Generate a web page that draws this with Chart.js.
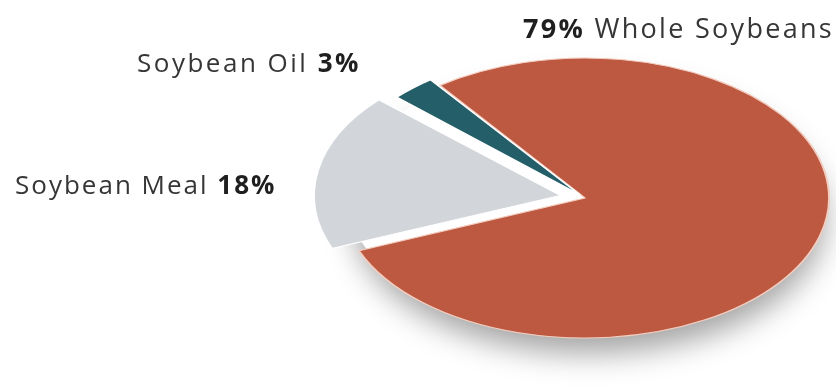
<!DOCTYPE html>
<html>
<head>
<meta charset="utf-8">
<script src="https://cdn.jsdelivr.net/npm/chart.js@4/dist/chart.umd.min.js"></script>
<style>
  html, body { margin:0; padding:0; background:#fff; }
  #wrap { position:relative; width:836px; height:387px; }
</style>
</head>
<body>
<div id="wrap"><canvas id="pie"></canvas></div>
<script>
// ─── Data ─────────────────────────────────────────────────────────────────────
const LABELS = ['Whole Soybeans', 'Soybean Meal', 'Soybean Oil'];
const VALUES = [79, 18, 3];
const COLORS = ['#bd5841', '#d2d5d9', '#245e69'];
const EDGES  = ['#f3cdbf', '#ffffff', '#ffffff'];

// ─── Look ─────────────────────────────────────────────────────────────────────
const RX = 244, RY = 140;          // ellipse radii of the squashed pie
const TEXT = '#363636', BOLD = '#1f1f1f';
const FONT = "'Open Sans', sans-serif";

// label pieces: [text, bold?] plus anchor and letter spacing
const LABEL_LAYOUT = [
  { parts:[['79%', true], [' Whole Soybeans', false]], x:523, y:38, size:27, ls:2.3 },
  { parts:[['Soybean Oil ', false], ['3%', true]],     x:137, y:72, size:26, ls:2.5 },
  { parts:[['Soybean Meal ', false], ['18%', true]],   x:15,  y:194, size:26, ls:2.0 },
];

// squash the circular pie into an ellipse and give it a soft drop shadow
const squash = {
  id:'squash',
  beforeDatasetsDraw(chart) {
    const a = chart.getDatasetMeta(0).data[0];
    const ctx = chart.ctx;
    ctx.save();
    ctx.translate(a.x, a.y); ctx.scale(1, RY / a.outerRadius); ctx.translate(-a.x, -a.y);
    ctx.save();
    ctx.shadowColor = 'rgba(0,0,0,0.36)';
    ctx.shadowBlur = 30; ctx.shadowOffsetY = 20; ctx.shadowOffsetX = 4;
    ctx.fillStyle = '#fff';
    ctx.beginPath(); ctx.arc(a.x, a.y, a.outerRadius - 8, 0, Math.PI * 2); ctx.fill();
    ctx.restore();
  },
  afterDatasetsDraw(chart) { chart.ctx.restore(); }
};

const labelsPlugin = {
  id:'sliceLabels',
  afterDraw(chart) {
    const ctx = chart.ctx;
    ctx.save();
    ctx.textBaseline = 'alphabetic';
    LABEL_LAYOUT.forEach(l => {
      let x = l.x;
      ctx.letterSpacing = l.ls + 'px';
      l.parts.forEach(([t, b]) => {
        ctx.font = `${b ? 700 : 400} ${l.size}px ${FONT}`;
        ctx.fillStyle = b ? BOLD : TEXT;
        ctx.fillText(t, x, l.y);
        x += ctx.measureText(t).width;
      });
    });
    ctx.restore();
  }
};

new Chart(document.getElementById('pie'), {
  type:'pie',
  data:{
    labels: LABELS,
    datasets:[{
      data: VALUES,
      backgroundColor: COLORS,
      borderColor: EDGES,
      borderWidth: 2,
      offset: [0, 100, 30],   // arc draw uses offset/4
    }]
  },
  options:{
    responsive:true, maintainAspectRatio:false, animation:false,
    rotation:-36.5,
    radius: RX,
    layout:{ padding:{ left:334, top:9, right:0, bottom:0 } },
    plugins:{ legend:{display:false}, tooltip:{enabled:false} }
  },
  plugins:[squash, labelsPlugin]
});
</script>
</body>
</html>
